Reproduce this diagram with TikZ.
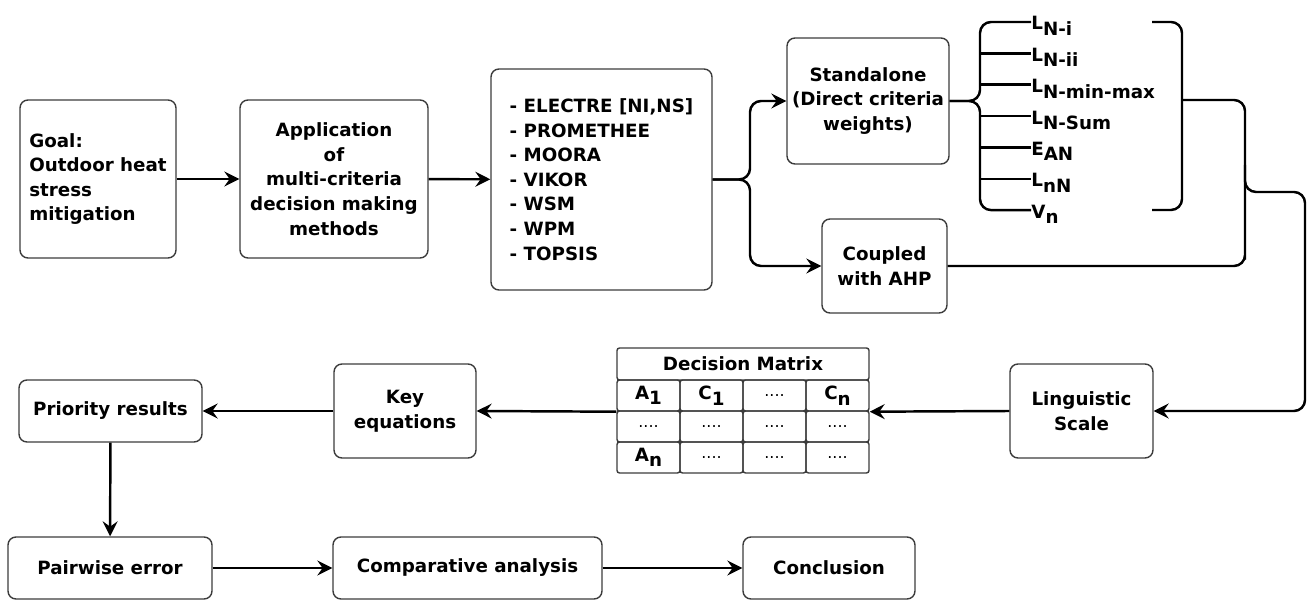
\documentclass[tikz,border=0pt]{standalone}
\usepackage{fontspec}
\setmainfont{DejaVu Sans}
\usetikzlibrary{positioning, calc, arrows.meta}
\definecolor{edgegray}{HTML}{3C3C3C}
\newcommand{\lsub}[2]{#1\raisebox{-0.55ex}{#2}}
\newcommand{\mdots}{{\mdseries\small ....}}
\newcommand{\boxfont}{\bfseries\fontsize{10.4}{14}\selectfont}

\begin{document}
\begin{tikzpicture}[
		>={Stealth[length=8.5pt, width=8.5pt, inset=3pt]},
		box/.style={
			draw=edgegray, line width=0.8pt, rounded corners=1.6mm,
			align=center, inner sep=1mm, font=\boxfont
		},
		cell/.style={
			draw=edgegray, line width=0.8pt, rounded corners=0.5mm,
			minimum width=1.26cm, minimum height=0.62cm, inner sep=0pt, font=\boxfont
		},
		weight/.style={anchor=base west, inner sep=0pt, font=\boxfont},
		flow/.style={line width=1.4pt, ->},
		link/.style={line width=1.4pt, rounded corners=2.2mm}
		]
		
		\useasboundingbox (0,0) rectangle (26.24,-12.02);
		
		% ==========================================
		% TOP ROW: goal and methods
		% ==========================================
		
		\node[box, align=left, minimum width=3.12cm, minimum height=3.16cm] (goal) at (1.96,-3.58)
		{Goal:\\Outdoor heat\\stress\\mitigation};
		\node[box, minimum width=3.76cm, minimum height=3.16cm] (app) at (6.68,-3.58)
		{Application\\of\\multi-criteria\\decision making\\methods};
		\node[box, align=left, minimum width=4.42cm, minimum height=4.42cm] (meth) at (12.03,-3.59)
		{- ELECTRE [NI,NS]\\- PROMETHEE\\- MOORA\\- VIKOR\\- WSM\\- WPM\\- TOPSIS};
		
		\node[box, minimum width=3.16cm, minimum height=2.52cm] (stand) at (17.36,-2.02)
		{Standalone\\(Direct criteria\\weights)};
		\node[box, minimum width=2.5cm, minimum height=1.88cm] (coup) at (17.69,-5.32)
		{Coupled\\with AHP};
		
		\draw[flow] (goal) -- (app);
		\draw[flow] (app) -- (meth);
		
		% Branch to the two weighting options
		\coordinate (mb) at (15.0,-3.59);
		\draw[link, ->] (meth.east) -- (mb) |- (stand.west);
		\draw[link, ->] (meth.east) -- (mb) |- (coup.west);
		
		% Normalisation variants
		\foreach \lab [count=\i] in {\lsub{L}{N-i}, \lsub{L}{N-ii}, \lsub{L}{N-min-max}, \lsub{L}{N-Sum}, \lsub{E}{AN}, \lsub{L}{nN}, \lsub{V}{n}} {
			\node[weight] (w\i) at (20.62, {-0.60-0.627*(\i-1)}) {\lab};
			\coordinate (w\i-in) at ([yshift=0.16cm]w\i.base west);
		}
		
		% Left brace
		\coordinate (lb) at (19.6,-2.02);
		\draw[link] (stand.east) -- (lb) |- (w1-in);
		\draw[link] (stand.east) -- (lb) |- (w7-in);
		\foreach \i in {2,...,6}
		\draw[line width=1.4pt] (lb |- w\i-in) -- (w\i-in);
		
		% Right brace
		\coordinate (rbt) at (23.04,-0.44);
		\coordinate (rbb) at (23.04,-4.20);
		\coordinate (rbm) at (23.64,-2.0);
		\draw[link] (rbt) -| (rbm) |- (rbb);
		
		% ==========================================
		% MIDDLE ROW: scale, matrix, equations
		% ==========================================
		
		\node[box, minimum width=2.86cm, minimum height=1.88cm] (ling) at (21.63,-8.22)
		{Linguistic\\Scale};
		\node[box, minimum width=2.84cm, minimum height=1.88cm] (key) at (8.10,-8.22)
		{Key\\equations};
		\node[box, minimum width=3.66cm, minimum height=1.24cm] (prio) at (2.21,-8.22)
		{Priority results};
		
		% Decision matrix
		\node[cell, minimum width=5.04cm, minimum height=0.64cm] (mtitle) at (14.86,-7.28) {Decision Matrix};
		\foreach \txt [count=\c] in {\lsub{A}{1}, \lsub{C}{1}, \mdots, \lsub{C}{n}}
		\node[cell] (m-1-\c) at ({11.71+1.26*\c},-7.91) {\txt};
		\foreach \c in {1,...,4}
		\node[cell] (m-2-\c) at ({11.71+1.26*\c},-8.53) {\mdots};
		\foreach \txt [count=\c] in {\lsub{A}{n}, \mdots, \mdots, \mdots}
		\node[cell] (m-3-\c) at ({11.71+1.26*\c},-9.15) {\txt};
		
		% Both weighting routes join and run down to the scale
		\coordinate (jt) at (24.9,-5.32);
		\coordinate (j0) at (24.9,-3.3);
		\coordinate (j1) at (24.9,-3.84);
		\coordinate (j2) at (26.1,-3.84);
		\draw[link] (rbm) -| (jt) |- (coup.east);
		\draw[link, ->] (j0) -- (j1) -- (j2) |- (ling.east);
		
		\draw[flow] (ling.west) -- (m-1-4.south east);
		\draw[flow] (m-1-1.south west) -- (key.east);
		\draw[flow] (key.west) -- (prio.east);
		
		% ==========================================
		% BOTTOM ROW: evaluation
		% ==========================================
		
		\node[box, minimum width=4.08cm, minimum height=1.24cm] (pair) at (2.20,-11.36) {Pairwise error};
		\node[box, minimum width=5.38cm, minimum height=1.24cm] (comp) at (9.35,-11.36) {Comparative analysis};
		\node[box, minimum width=3.44cm, minimum height=1.24cm] (conc) at (16.58,-11.36) {Conclusion};
		
		\draw[flow] (prio) -- (pair);
		\draw[flow] (pair) -- (comp);
		\draw[flow] (comp) -- (conc);
		
	\end{tikzpicture}
\end{document}
